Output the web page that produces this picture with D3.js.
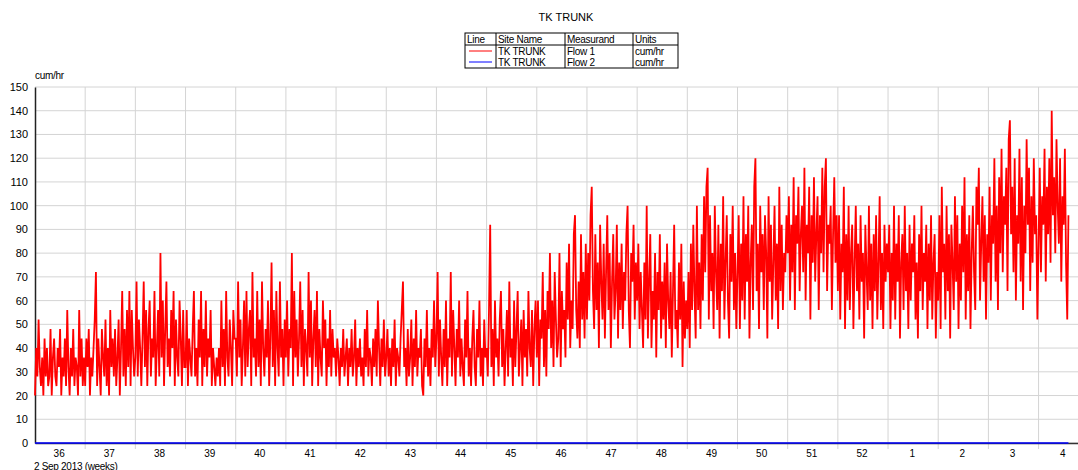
<!DOCTYPE html>
<html>
<head>
<meta charset="utf-8">
<script src="https://cdn.jsdelivr.net/npm/d3@7"></script>
<style>
  body { margin: 0; background: #fff; }
  text { font-family: "Liberation Sans", Arial, sans-serif; }
</style>
</head>
<body>
<div id="graphique"></div>
<script>
// Dimensions
const largeur = 1078;
const hauteur = 470;
const marge = {haut: 87, droite: 0, bas: 27, gauche: 35};

// Etiquettes des semaines (ISO) et graduations de l'axe Y
const semainesLabels = ["36","37","38","39","40","41","42","43","44","45","46","47","48","49","50","51","52","1","2","3","4"];
const graduationsY = [0,10,20,30,40,50,60,70,80,90,100,110,120,130,140,150];

// Flow 1 : une valeur toutes les 4 heures, une liste par semaine
const w36 = [20,40,28,52,32,24, 36,20,44,28,40,24, 28,48,20,36,44,28, 24,40,32,48,20,36, 28,44,24,56,32,20, 40,28,48,24,36,32, 20,56,28,44,24,36];
const w37 = [24,44,32,48,20,36, 28,40,52,72,24,44, 32,20,48,36,28,52, 24,40,20,56,32,44, 28,48,24,36,52,20, 40,64,28,48,24,56, 32,64,24,56,40,28];
const w38 = [36,68,28,52,40,24, 44,68,32,56,24,48, 60,28,44,36,64,24, 40,56,28,80,36,60, 24,48,68,32,44,28, 56,40,64,24,52,36, 28,60,44,24,56,32];
const w39 = [32,56,24,44,36,28, 48,64,28,40,24,52, 36,64,24,48,32,60, 28,44,36,56,24,40, 32,24,36,28,40,24, 60,32,48,24,64,36, 28,52,40,24,56,44];
const w40 = [44,28,68,36,52,24, 40,60,28,64,32,48, 56,24,72,36,44,28, 64,32,52,24,68,40, 28,48,36,60,24,44, 76,32,56,24,64,40, 28,68,36,48,24,52];
const w41 = [36,60,28,48,40,80, 24,64,36,52,28,44, 68,32,56,24,48,40, 28,72,36,60,24,44, 56,32,64,24,48,36, 28,60,40,52,24,44, 32,56,28,48,36,40];
const w42 = [28,44,36,24,40,32, 48,28,36,44,24,40, 32,48,28,36,52,24, 40,32,44,28,36,24, 48,32,56,28,40,36, 24,44,32,48,28,60, 40,24,44,32,52,28];
const w43 = [36,48,28,40,24,44, 32,52,24,40,36,28, 44,56,68,32,40,24, 48,28,36,52,24,44, 32,56,28,40,36,48, 24,20,44,32,56,28, 40,24,48,36,60,32];
const w44 = [44,72,28,52,36,24, 48,32,60,24,44,36, 72,28,56,40,24,48, 36,60,28,44,32,24, 52,36,64,28,40,24, 44,56,32,24,48,36, 60,28,40,24,52,36];
const w45 = [40,28,56,92,32,48, 24,60,36,44,28,52, 64,32,48,24,40,56, 28,68,36,44,24,60, 32,48,64,28,40,52, 24,56,36,48,28,64, 40,32,56,24,48,60];
const w46 = [36,60,24,52,44,72, 32,56,28,64,48,80, 40,60,32,72,52,36, 44,80,32,64,48,56, 36,76,52,84,40,60, 48,88,96,56,44,68, 40,88,52,72,44,84];
const w47 = [52,80,60,96,108,64, 48,88,56,76,40,92, 68,52,84,44,72,96, 56,80,40,68,88,52, 64,92,44,76,56,84, 48,72,60,88,100,56, 40,80,68,92,52,76];
const w48 = [60,84,48,72,56,40, 76,52,100,44,68,88, 40,64,52,80,36,72, 56,88,44,68,52,76, 40,84,60,48,72,36, 64,92,48,56,40,76, 52,84,32,68,44,60];
const w49 = [48,72,40,84,56,92, 64,44,100,56,76,48, 88,60,104,72,108,116, 52,96,64,80,48,100, 72,56,92,44,84,64, 104,52,76,96,60,44, 88,68,100,56,80,48];
const w50 = [72,96,48,84,60,104, 52,88,68,100,44,76, 92,56,108,120,64,84, 48,100,72,88,56,96, 80,44,104,68,92,52, 76,100,60,84,48,108, 64,92,56,80,72,96];
const w51 = [80,104,60,92,72,112, 56,96,84,108,64,88, 100,72,116,60,92,80, 108,52,96,76,112,68, 88,104,56,96,80,116, 72,108,120,64,92,84, 100,56,88,112,76,96];
const w52 = [64,96,52,84,72,108, 48,88,60,100,56,80, 92,48,76,100,64,84, 52,96,68,80,44,92, 72,56,100,60,84,48, 88,64,96,52,76,104, 56,80,48,92,68,84];
const w01 = [72,92,48,80,60,100, 52,84,68,96,44,76, 88,56,100,64,80,48, 92,60,84,72,96,52, 76,44,88,64,100,56, 80,68,92,48,84,60, 96,52,76,88,44,72];
const w02 = [60,96,48,108,72,84, 52,100,64,88,44,92, 76,56,104,68,96,48, 84,60,100,72,112,52, 88,64,96,48,80,100, 72,56,108,92,116,60, 84,104,68,96,52,88];
const w03 = [76,108,60,96,84,120, 68,100,56,112,80,124, 72,104,92,116,64,128, 136,88,108,72,120,60, 96,84,124,68,112,56, 100,80,128,92,116,64, 104,76,120,88,96,52];
const w04 = [84,116,72,104,92,124, 68,108,88,120,76,140, 96,112,80,128,100,84, 120,68,104,92,124,76, 52,96];

// Flow 2 : nul sur toute la période (une valeur par début de semaine + fin)
const flow2 = [0,0,0,0,0,0,0,0,0,0,0,0,0,0,0,0,0,0,0,0,0,0];

const debut = new Date(Date.UTC(2013, 8, 2));
const fin = new Date(Date.UTC(2014, 0, 25, 12));
const pas = 4 * 3600 * 1000;

const flow1 = [w36,w37,w38,w39,w40,w41,w42,w43,w44,w45,w46,w47,w48,w49,w50,w51,w52,w01,w02,w03,w04].flat();
const donnees1 = flow1.map((v, i) => ({t: new Date(debut.getTime() + i * pas), v}));
const derniere = donnees1[donnees1.length - 1].t;

const lundis = d3.utcMonday.range(debut, fin);
const donnees2 = flow2.map((v, i) => ({t: i < lundis.length ? lundis[i] : derniere, v}));

// Echelles
const x = d3.scaleUtc().domain([debut, fin]).range([marge.gauche, largeur - marge.droite]);
const y = d3.scaleLinear().domain([0, 150]).range([hauteur - marge.bas, marge.haut]);

const svg = d3.select('#graphique')
    .append('svg')
    .attr('width', largeur)
    .attr('height', hauteur);

// Titre
svg.append('text')
    .attr('x', 566).attr('y', 21)
    .attr('text-anchor', 'middle')
    .style('font-size', '11px')
    .text('TK TRUNK');

// Légende en tableau
const leg = svg.append('g').attr('transform', 'translate(465,33)');
const colonnes = [0, 31, 100, 168, 213];
leg.append('rect').attr('width', 213).attr('height', 35)
    .attr('fill', 'none').attr('stroke', '#000').attr('stroke-width', 1);
colonnes.slice(1, 4).forEach(c => leg.append('line')
    .attr('x1', c).attr('x2', c).attr('y1', 0).attr('y2', 35).attr('stroke', '#000'));
leg.append('line').attr('x1', 0).attr('x2', 213).attr('y1', 12).attr('y2', 12).attr('stroke', '#000');
const entetes = ['Line', 'Site Name', 'Measurand', 'Units'];
const lignesLeg = [
    {couleur: '#ff0000', cells: ['TK TRUNK', 'Flow 1', 'cum/hr']},
    {couleur: '#0000ff', cells: ['TK TRUNK', 'Flow 2', 'cum/hr']}
];
entetes.forEach((t, i) => leg.append('text')
    .attr('x', colonnes[i] + 2).attr('y', 9.5)
    .style('font-size', '10px').style('letter-spacing', '-0.3px').text(t));
lignesLeg.forEach((l, j) => {
    const yy = 18 + j * 11;
    leg.append('line').attr('x1', 4).attr('x2', 27).attr('y1', yy).attr('y2', yy)
        .attr('stroke', l.couleur).attr('stroke-width', 1);
    l.cells.forEach((t, i) => leg.append('text')
        .attr('x', colonnes[i + 1] + 2).attr('y', yy + 3.5)
        .style('font-size', '10px').style('letter-spacing', '-0.3px').text(t));
});

// Grille horizontale
svg.append('g')
    .selectAll('line')
    .data(graduationsY)
    .enter()
    .append('line')
    .attr('x1', marge.gauche).attr('x2', largeur)
    .attr('y1', d => y(d)).attr('y2', d => y(d))
    .attr('stroke', '#d4d4d4').attr('stroke-width', 1);

// Grille verticale (débuts de semaine)
svg.append('g')
    .selectAll('line')
    .data(lundis.slice(1))
    .enter()
    .append('line')
    .attr('x1', d => x(d)).attr('x2', d => x(d))
    .attr('y1', marge.haut).attr('y2', hauteur - marge.bas + 6)
    .attr('stroke', '#d4d4d4').attr('stroke-width', 1);

// Axe Y
const axeY = svg.append('g')
    .attr('transform', `translate(${marge.gauche},0)`)
    .call(d3.axisLeft(y).tickValues(graduationsY).tickSize(0).tickPadding(7));
axeY.select('.domain').attr('stroke', '#222').attr('stroke-width', 1.5);
axeY.selectAll('text').style('font-size', '11px').style('font-family', '"Liberation Sans", Arial, sans-serif').attr('fill', '#000');

svg.append('text')
    .attr('x', marge.gauche).attr('y', 79)
    .style('font-size', '10px').style('letter-spacing', '-0.3px')
    .text('cum/hr');

// Axe X : étiquettes au milieu des semaines
const milieux = lundis.map(d => new Date(d.getTime() + 3.3 * 24 * 3600 * 1000));
const axeX = svg.append('g')
    .attr('transform', `translate(0,${hauteur - marge.bas})`)
    .call(d3.axisBottom(x).tickValues(milieux).tickSize(0).tickPadding(7)
        .tickFormat((d, i) => semainesLabels[i]));
axeX.select('.domain').attr('stroke', '#333').attr('stroke-width', 1.5);
axeX.selectAll('text').style('font-size', '10px').style('font-family', '"Liberation Sans", Arial, sans-serif').attr('fill', '#000');

svg.append('text')
    .attr('x', marge.gauche - 1).attr('y', 469.5)
    .style('font-size', '10px').style('letter-spacing', '-0.3px')
    .text('2 Sep 2013 (weeks)');

// Courbes
const ligne = d3.line().x(d => x(d.t)).y(d => y(d.v));

svg.append('path')
    .datum(donnees2)
    .attr('d', ligne)
    .attr('fill', 'none')
    .attr('stroke', '#0000ff')
    .attr('stroke-width', 1.5);

svg.append('path')
    .datum(donnees1)
    .attr('d', ligne)
    .attr('fill', 'none')
    .attr('stroke', '#ff0000')
    .attr('stroke-width', 1.8);
</script>
</body>
</html>
